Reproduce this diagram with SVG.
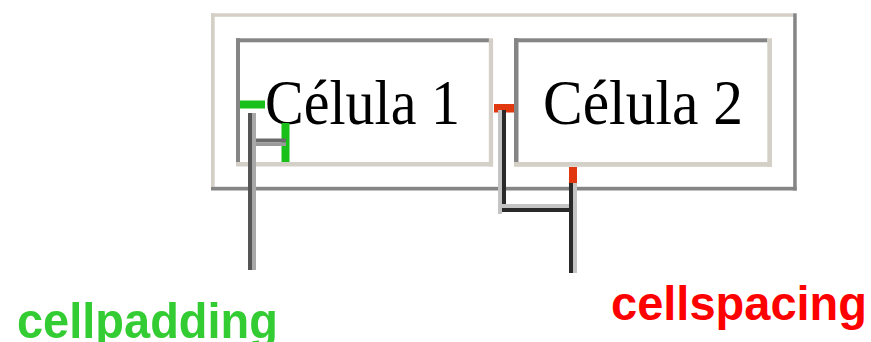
<svg xmlns="http://www.w3.org/2000/svg" width="871" height="342" viewBox="0 0 871 342">
<style>
.light{fill:#d4d0c8}
.dark{fill:#858585}
.cell{font-family:"Liberation Serif","Times New Roman",serif;font-size:64px;fill:#000}
.lbl{font-family:"Liberation Sans",Arial,sans-serif;font-weight:bold}
.ldk{fill:#2a2a2a}
.llt{fill:#c4c4c4}
</style>
<rect width="871" height="342" fill="#fff"/>
<g id="table">
<rect class="light" x="211" y="13.3" width="582.5" height="3.5"/>
<rect class="light" x="211" y="13.3" width="3.7" height="173.5"/>
<rect class="dark" x="211" y="186.8" width="585.7" height="3.7"/>
<rect class="dark" x="793.2" y="13.3" width="3.5" height="177.2"/>
</g>
<g id="cell1">
<rect class="dark" x="236" y="38.3" width="253" height="4"/>
<rect class="dark" x="236" y="38.3" width="4" height="123.7"/>
<rect class="light" x="236" y="162" width="257" height="4.5"/>
<rect class="light" x="488.8" y="38.3" width="4.3" height="128.2"/>
<text class="cell" x="265" y="124" textLength="195" lengthAdjust="spacingAndGlyphs">Célula 1</text>
</g>
<g id="cell2">
<rect class="dark" x="514" y="38.3" width="253.5" height="4"/>
<rect class="dark" x="514" y="38.3" width="4.5" height="123.7"/>
<rect class="light" x="514" y="162" width="258" height="4.8"/>
<rect class="light" x="767.3" y="38.3" width="4.7" height="128.5"/>
<text class="cell" x="543" y="124" textLength="200" lengthAdjust="spacingAndGlyphs">Célula 2</text>
</g>
<g id="connectors">
<!-- cellpadding markers -->
<rect x="240" y="100.5" width="25" height="8" fill="#19c019"/>
<rect x="281.5" y="123" width="8" height="39" fill="#19c019"/>
<rect x="248" y="113" width="4" height="157" fill="#555"/>
<rect x="252" y="113" width="4" height="157" fill="#a8a8a8"/>
<rect x="256" y="138.5" width="30" height="4" fill="#6a6a6a"/>
<rect x="256" y="142.5" width="30" height="3.5" fill="#9a9a9a"/>
<!-- cellspacing markers -->
<rect x="494" y="104" width="20" height="8.5" fill="#e2380f"/>
<rect x="569" y="167" width="8" height="20" fill="#e2380f"/>
<rect class="llt" x="498" y="110" width="4" height="104"/>
<rect class="ldk" x="502" y="110" width="4" height="102"/>
<rect class="llt" x="502" y="204" width="75" height="4"/>
<rect class="ldk" x="502" y="208" width="71" height="4"/>
<rect class="ldk" x="569" y="183" width="4" height="90"/>
<rect class="llt" x="573" y="183" width="4" height="90"/>
</g>
<g id="labels">
<text class="lbl" x="17" y="338" font-size="50" fill="#33cc33" textLength="261" lengthAdjust="spacingAndGlyphs">cellpadding</text>
<text class="lbl" x="611" y="320" font-size="48" fill="#ff0000" textLength="256" lengthAdjust="spacingAndGlyphs">cellspacing</text>
</g>
</svg>
